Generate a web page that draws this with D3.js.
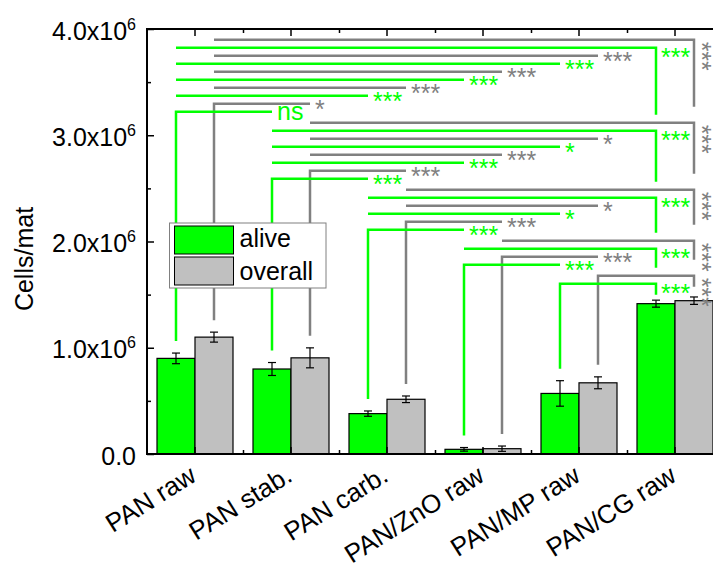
<!DOCTYPE html>
<html>
<head>
<meta charset="utf-8">
<script src="https://cdn.jsdelivr.net/npm/d3@7"></script>
<style>
  body { margin: 0; background: #fff; }
  text { font-family: "Liberation Sans", Arial, sans-serif; }
</style>
</head>
<body>
<svg id="chart" width="713" height="568"></svg>
<script>
const categories = ['PAN raw', 'PAN stab.', 'PAN carb.', 'PAN/ZnO raw', 'PAN/MP raw', 'PAN/CG raw'];
const seriesNames = ['alive', 'overall'];

const aliveMean = [0.90e6, 0.80e6, 0.38e6, 0.044e6, 0.57e6, 1.415e6];
const aliveErr = [0.05e6, 0.061e6, 0.025e6, 0.017e6, 0.12e6, 0.033e6];
const overallMean = [1.10e6, 0.905e6, 0.515e6, 0.05e6, 0.67e6, 1.443e6];
const overallErr = [0.047e6, 0.094e6, 0.031e6, 0.025e6, 0.056e6, 0.035e6];

// row i: group i compared with groups i+1 ... last
const aliveSig = [
  ['ns', '***', '***', '***', '***'],
  ['***', '***', '*', '***'],
  ['***', '*', '***'],
  ['***', '***'],
  ['***']
];
const overallSig = [
  ['*', '***', '***', '***', '***'],
  ['***', '***', '*', '***'],
  ['***', '*', '***'],
  ['***', '***'],
  ['***']
];

const yTicks = [0, 1e6, 2e6, 3e6, 4e6];
const yMinorTicks = [0.5e6, 1.5e6, 2.5e6, 3.5e6];

const mean = {alive: aliveMean, overall: overallMean};
const err = {alive: aliveErr, overall: overallErr};
const sig = {alive: aliveSig, overall: overallSig};
const fill = {alive: '#00ff00', overall: '#c0c0c0'};
const lineColor = {alive: '#00ff00', overall: '#808080'};

const svg = d3.select('#chart');
const plotLeft = 147, plotRight = 723, plotTop = 29, plotBottom = 454;

const x = d3.scaleBand().domain(categories).range([plotLeft, plotRight])
    .paddingInner(20 / 96).paddingOuter(10 / 96);
const xs = d3.scaleBand().domain(seriesNames).range([0, x.bandwidth()]);
const xl = d3.scaleLinear().domain([0, categories.length]).range([plotLeft, plotRight]);
const y = d3.scaleLinear().domain([0, 4e6]).range([plotBottom, plotTop]);

function cx(s, k) {
  return x(categories[k]) + xs(s) + xs.bandwidth() / 2;
}

// bars
const groups = svg.append('g').selectAll('g')
    .data(categories)
    .join('g')
    .attr('transform', d => 'translate(' + x(d) + ',0)');

groups.selectAll('rect')
    .data((d, i) => seriesNames.map(s => ({s, v: mean[s][i]})))
    .join('rect')
    .attr('x', d => xs(d.s))
    .attr('y', d => y(d.v))
    .attr('width', xs.bandwidth())
    .attr('height', d => y(0) - y(d.v))
    .attr('fill', d => fill[d.s])
    .attr('stroke', '#000')
    .attr('stroke-width', 1.2);

// error bars
const eb = svg.append('g').attr('stroke', '#000').attr('stroke-width', 1.2);
seriesNames.forEach(s => {
  categories.forEach((c, i) => {
    const xc = cx(s, i);
    const y1 = y(mean[s][i] + err[s][i]), y2 = y(mean[s][i] - err[s][i]);
    eb.append('line').attr('x1', xc).attr('x2', xc).attr('y1', y1).attr('y2', y2);
    eb.append('line').attr('x1', xc - 4).attr('x2', xc + 4).attr('y1', y1).attr('y2', y1);
    eb.append('line').attr('x1', xc - 4).attr('x2', xc + 4).attr('y1', y2).attr('y2', y2);
  });
});

// significance brackets
const n = categories.length;
const step = 8, groupGap = 3;
let level = y(3.9e6);
const sigLayer = svg.append('g').attr('fill', 'none');
const sigText = svg.append('g').attr('font-size', 25);

for (let i = 0; i < n - 1; i++) {
  const comps = [];
  for (let j = n - 1; j > i; j--) {
    ['overall', 'alive'].forEach(s => {
      comps.push({i, j, s, label: sig[s][i][j - i - 1], level});
      level += step;
    });
  }
  level += groupGap;
  const rootLevel = {};
  comps.filter(c => c.j === i + 1).forEach(c => { rootLevel[c.s] = c.level; });

  comps.forEach(c => {
    const x0 = cx(c.s, i), x1 = cx(c.s, c.j);
    let d;
    if (c.j === i + 1) {
      const barTop = y(mean[c.s][i] + err[c.s][i]) - 12;
      d = 'M' + x0 + ',' + barTop + 'V' + c.level + 'H' + x1;
    } else {
      d = 'M' + x0 + ',' + c.level + 'H' + x1;
    }
    if (c.j === n - 1) {
      d += 'V' + Math.max(rootLevel[c.s] + 3, c.level + 11);
    }
    sigLayer.append('path')
        .attr('d', d)
        .attr('stroke', lineColor[c.s])
        .attr('stroke-width', 2.5);

    const stars = /^\*+$/.test(c.label);
    if (c.j === n - 1 && c.s === 'overall') {
      sigText.append('text')
          .attr('transform', 'translate(' + (x1 - 1) + ',' + (c.level + 2) + ') rotate(90)')
          .attr('fill', lineColor[c.s])
          .text(c.label);
    } else if (c.j === n - 1) {
      sigText.append('text')
          .attr('x', x1 + 5)
          .attr('y', c.level + 18.8)
          .attr('fill', lineColor[c.s])
          .text(c.label);
    } else {
      sigText.append('text')
          .attr('x', x1 + 5)
          .attr('y', c.level + (stars ? 14.8 : 8))
          .attr('fill', lineColor[c.s])
          .text(c.label);
    }
  });
}

// axes
function sciLabel(sel) {
  sel.selectAll('.tick text').each(function (v) {
    const t = d3.select(this);
    t.text(null).attr('dy', '0.4em').attr('font-size', 25)
        .attr('font-family', '"Liberation Sans", Arial, sans-serif');
    if (v === 0) {
      t.text('0.0');
    } else {
      t.append('tspan').text((v / 1e6).toFixed(1) + 'x10');
      t.append('tspan').attr('dy', -10).attr('font-size', 16).text('6');
    }
  });
}

svg.append('g')
    .attr('transform', 'translate(' + plotLeft + ',0)')
    .call(d3.axisLeft(y).tickValues(yTicks).tickSizeInner(-7).tickSizeOuter(0).tickPadding(11))
    .call(sciLabel);

svg.append('g')
    .attr('transform', 'translate(' + plotLeft + ',0)')
    .call(d3.axisLeft(y).tickValues(yMinorTicks).tickSize(-4).tickFormat(''));

svg.append('g')
    .attr('transform', 'translate(' + plotRight + ',0)')
    .call(d3.axisRight(y).tickValues(yTicks).tickSize(-7).tickFormat(''));

const xAxis = svg.append('g')
    .attr('transform', 'translate(0,' + plotBottom + ')')
    .call(d3.axisBottom(x).tickSizeInner(-7).tickSizeOuter(0).tickPadding(0));
xAxis.selectAll('.tick text')
    .attr('y', 0)
    .attr('dy', 0)
    .attr('font-size', 26)
    .attr('font-family', '"Liberation Sans", Arial, sans-serif')
    .attr('text-anchor', 'end')
    .attr('transform', 'translate(3,26) rotate(-32)');

svg.append('g')
    .attr('transform', 'translate(0,' + plotBottom + ')')
    .call(d3.axisBottom(xl).tickValues(d3.range(1, n)).tickSize(-4).tickFormat(''));

svg.append('g')
    .attr('transform', 'translate(0,' + plotTop + ')')
    .call(d3.axisTop(x).tickSizeInner(-7).tickSizeOuter(0).tickFormat(''));

svg.append('g')
    .attr('transform', 'translate(0,' + plotTop + ')')
    .call(d3.axisTop(xl).tickValues(d3.range(1, n)).tickSize(-4).tickFormat(''));

svg.selectAll('.domain').remove();
svg.selectAll('.tick line').attr('stroke-width', 1.5);

svg.append('rect')
    .attr('x', plotLeft).attr('y', plotTop)
    .attr('width', plotRight - plotLeft).attr('height', plotBottom - plotTop)
    .attr('fill', 'none').attr('stroke', '#000').attr('stroke-width', 2);

svg.append('text')
    .attr('transform', 'translate(33,259) rotate(-90)')
    .attr('text-anchor', 'middle')
    .attr('font-size', 25)
    .text('Cells/mat');

// legend
const legend = svg.append('g').attr('transform', 'translate(169.5,223)');
legend.append('rect')
    .attr('width', 156.5).attr('height', 65)
    .attr('fill', '#fff').attr('stroke', '#808080').attr('stroke-width', 1);
seriesNames.forEach((s, k) => {
  legend.append('rect')
      .attr('x', 5).attr('y', 3 + k * 31)
      .attr('width', 59).attr('height', 28)
      .attr('fill', fill[s]).attr('stroke', '#000').attr('stroke-width', 1);
  legend.append('text')
      .attr('x', 70).attr('y', 24 + k * 33)
      .attr('font-size', 25)
      .text(s);
});
</script>
</body>
</html>
